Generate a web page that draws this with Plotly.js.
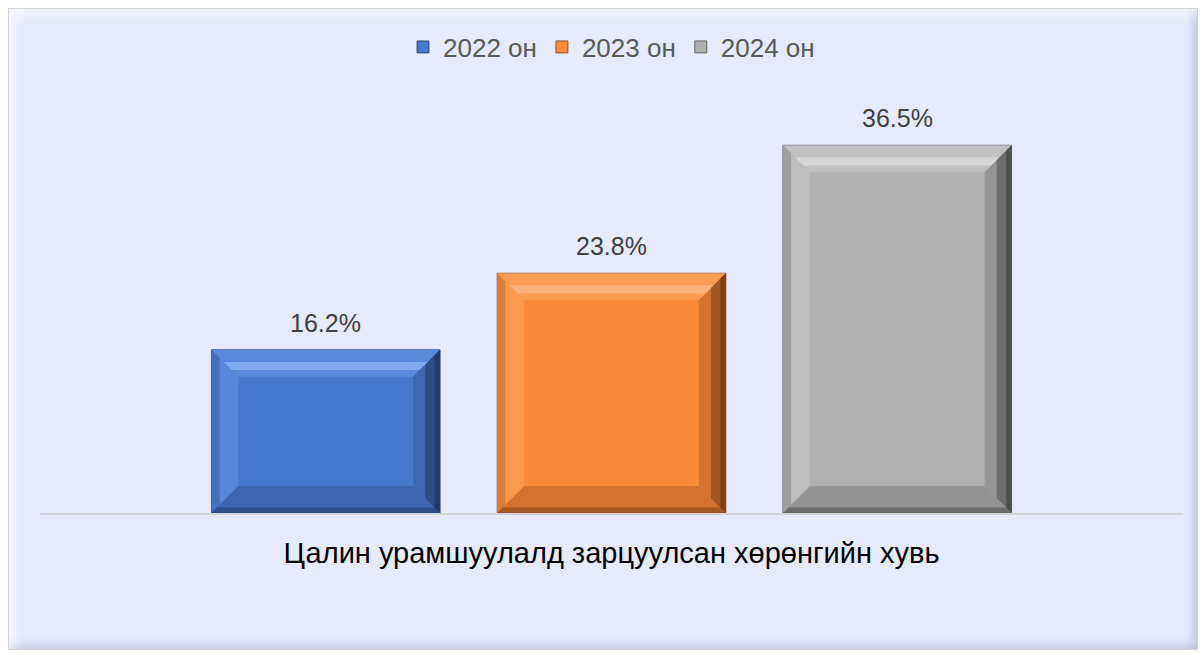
<!DOCTYPE html>
<html><head><meta charset="utf-8">
<script src="https://cdn.plot.ly/plotly-3.0.1.min.js"></script>
<style>
html,body{margin:0;padding:0;background:#fff;}
#wrap{position:relative;width:1201px;height:653px;overflow:hidden;}
#frame{position:absolute;left:8px;top:8px;width:1188px;height:640px;background:#E6EAFC;border:1px solid #d4d4d8;
 box-shadow: inset 14px 14px 14px -10px rgba(255,255,255,0.8), inset -12px -12px 12px -10px rgba(120,130,170,0.45);}
#chart{position:absolute;left:0;top:0;width:1201px;height:653px;}
</style></head>
<body>
<div id="wrap"><div id="frame"></div><div id="chart"></div></div>
<script>
const category = ['Цалин урамшуулалд зарцуулсан хөрөнгийн хувь'];
const seriesNames = ['2022 он', '2023 он', '2024 он'];
const values2022 = [16.2];
const values2023 = [23.8];
const values2024 = [36.5];
const allValues = [values2022, values2023, values2024];
const colors = ['#4878CE', '#F98A3B', '#B0B0B0'];
const lightColors = ['#86ACF2', '#FFB580', '#DADADA'];
const midLight = ['#5C8BDE', '#FB9D57', '#C2C2C2'];
const darkColors = ['#1E3866', '#7E3C12', '#4A4A4A'];
const midDark = ['#3A5FA5', '#C56A2D', '#8A8A8A'];

const bargap = 0.25, bargroupgap = 0.2;
const n = seriesNames.length;
const slot = (1 - bargap) / n;
const half = slot * (1 - bargroupgap) / 2;

const traces = allValues.map((vals, i) => ({
  type: 'bar', name: seriesNames[i], x: category, y: vals,
  marker: {color: colors[i], line: {color: darkColors[i], width: 0.8}},
  hoverinfo: 'skip'
}));

const L = 40, R = 18, T = 110, B = 140, W = 1201, H = 653;
const yMax = 40;
const pw = W - L - R, ph = H - T - B;
const bx = 27 / pw;
const by = 27 / ph * yMax;

const shapes = [];
const annotations = [];
const poly = pts => 'M' + pts.map(p => p[0] + ',' + p[1]).join(' L') + ' Z';
const addPoly = (pts, color, op) => shapes.push({type:'path', xref:'x', yref:'y', layer:'above',
  line:{width:0}, fillcolor: color, opacity: op, path: poly(pts)});
allValues.forEach((vals, i) => {
  vals.forEach((v, ci) => {
    const c = ci - (1 - bargap) / 2 + slot * (i + 0.5);
    const x0 = c - half, x1 = c + half, y0 = 0, y1 = v;
    // top bevel: base, then highlight stripe in middle
    addPoly([[x0,y1],[x1,y1],[x1-bx,y1-by],[x0+bx,y1-by]], midLight[i], 0.9);
    addPoly([[x0+bx*0.45,y1-by*0.45],[x1-bx*0.45,y1-by*0.45],[x1-bx*0.75,y1-by*0.75],[x0+bx*0.75,y1-by*0.75]], lightColors[i], 0.9);
    // left bevel
    addPoly([[x0,y1],[x0+bx,y1-by],[x0+bx,y0+by],[x0,y0]], midLight[i], 0.75);
    addPoly([[x0,y1],[x0+bx*0.3,y1-by*0.3],[x0+bx*0.3,y0+by*0.3],[x0,y0]], midDark[i], 0.6);
    // bottom bevel
    addPoly([[x0,y0],[x0+bx,y0+by],[x1-bx,y0+by],[x1,y0]], midDark[i], 0.75);
    addPoly([[x0+bx*0.2,y0+by*0.2],[x1-bx*0.2,y0+by*0.2],[x1,y0],[x0,y0]], darkColors[i], 0.5);
    // right bevel (gradient via layers)
    addPoly([[x1,y1],[x1-bx,y1-by],[x1-bx,y0+by],[x1,y0]], midDark[i], 0.7);
    addPoly([[x1,y1],[x1-bx*0.55,y1-by*0.55],[x1-bx*0.55,y0+by*0.55],[x1,y0]], darkColors[i], 0.55);
    addPoly([[x1,y1],[x1-bx*0.2,y1-by*0.2],[x1-bx*0.2,y0+by*0.2],[x1,y0]], darkColors[i], 0.85);
    annotations.push({x: c, y: v, xref:'x', yref:'y', text: v.toFixed(1) + '%', showarrow:false,
      yanchor:'bottom', yshift: 11, font:{family:'Liberation Sans, Arial', size:25, color:'#404040'}});
  });
});

const layout = {
  width: W, height: H,
  margin: {l: L, r: R, t: T, b: B},
  paper_bgcolor: 'rgba(0,0,0,0)', plot_bgcolor: 'rgba(0,0,0,0)',
  barmode: 'group', bargap: bargap, bargroupgap: bargroupgap,
  showlegend: true,
  legend: {orientation:'h', x:0.5, xanchor:'center', y:1.0 + (T - 47) / ph, yanchor:'middle',
    font:{family:'Liberation Sans, Arial', size:26, color:'#595959'}, bgcolor:'rgba(0,0,0,0)', itemwidth:30, traceorder:'normal'},
  xaxis: {type:'category', showline:true, linecolor:'#D2D2DA', linewidth:1.5, ticks:'', showgrid:false,
    tickfont:{family:'Liberation Sans, Arial', size:29, color:'#000'}, ticklabelstandoff: 14, fixedrange:true},
  yaxis: {range:[0, yMax], visible:false, showgrid:false, zeroline:false, fixedrange:true},
  shapes: shapes, annotations: annotations,
  font: {family:'Liberation Sans, Arial'}
};
Plotly.newPlot('chart', traces, layout, {displayModeBar:false, staticPlot:true});
</script>
</body></html>
